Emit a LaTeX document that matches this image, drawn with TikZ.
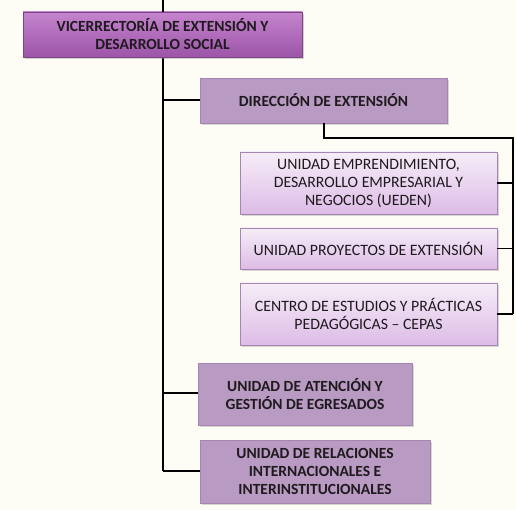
\documentclass[tikz,border=0pt]{standalone}
\usepackage{fontspec}
\setmainfont{Carlito}
\usetikzlibrary{shadows}
\definecolor{bgc}{HTML}{FDFDF6}
\definecolor{darkp}{HTML}{9C55A8}
\definecolor{darkp2}{HTML}{C584CD}
\definecolor{mauve}{HTML}{B99AC2}
\definecolor{lightp}{HTML}{F6EDF8}
\definecolor{lightp2}{HTML}{DDBCE6}
\definecolor{edgep}{HTML}{A685B3}
\definecolor{txt}{HTML}{1E1A1E}
\tikzset{
  x=1pt,y=-1pt,
  topbox/.style={draw=darkp!80!black, line width=0.6pt, top color=darkp2, bottom color=darkp, drop shadow={shadow xshift=1.5pt,shadow yshift=-2pt,opacity=0.35}, align=center, text=txt, font=\bfseries\fontsize{15.5}{18}\selectfont, inner sep=0pt},
  midbox/.style={draw=edgep, line width=0.6pt, fill=mauve, drop shadow={shadow xshift=1.5pt,shadow yshift=-2pt,opacity=0.3}, align=center, text=txt, font=\bfseries\fontsize{15.5}{18}\selectfont, inner sep=0pt},
  unitbox/.style={draw=edgep, line width=0.6pt, top color=lightp, bottom color=lightp2, drop shadow={shadow xshift=1.5pt,shadow yshift=-2pt,opacity=0.3}, align=center, text=txt, font=\fontsize{15.8}{18}\selectfont, inner sep=0pt},
  conn/.style={line width=1.4pt, black}
}
\begin{document}
\begin{tikzpicture}
\fill[bgc] (0,0) rectangle (516,510);
\useasboundingbox (0,0) rectangle (516,510);
\coordinate (top) at (163,0);
\coordinate (bot) at (163,471);
\draw[conn] (top) -- (bot);
\draw[conn] (163,100) -- (200,100);
\draw[conn] (163,393) -- (198,393);
\draw[conn] (163,471) -- (200,471);
\node[topbox, minimum width=279pt, minimum height=45pt] (vice) at (162.5,34.5) {VICERRECTORÍA DE EXTENSIÓN Y\\DESARROLLO SOCIAL};
\node[midbox, minimum width=247pt, minimum height=45pt] (dir) at (323.5,100.5) {DIRECCIÓN DE EXTENSIÓN};
\node[unitbox, minimum width=257pt, minimum height=62pt] (ueden) at (368.5,183) {UNIDAD EMPRENDIMIENTO,\\DESARROLLO EMPRESARIAL Y\\NEGOCIOS (UEDEN)};
\node[unitbox, minimum width=257pt, minimum height=41pt] (proy) at (368.5,248.5) {UNIDAD PROYECTOS DE EXTENSIÓN};
\node[unitbox, minimum width=257pt, minimum height=62pt] (cepas) at (368.5,314) {CENTRO DE ESTUDIOS Y PRÁCTICAS\\PEDAGÓGICAS – CEPAS};
\node[midbox, minimum width=214pt, minimum height=62pt] (egr) at (305,394) {UNIDAD DE ATENCIÓN Y\\GESTIÓN DE EGRESADOS};
\node[midbox, minimum width=230pt, minimum height=63pt] (rel) at (315,471.5) {UNIDAD DE RELACIONES\\INTERNACIONALES E\\INTERINSTITUCIONALES};
\coordinate (rr) at (513,138);
\draw[conn] (dir.south -| 324,0) -- (324,138) -- (rr) -- (513,314);
\draw[conn] (ueden.east) -- (513,183);
\draw[conn] (proy.east) -- (513,248.5);
\draw[conn] (cepas.east) -- (513,314);
\draw[conn] (vice.north -| top) -- (top);
\end{tikzpicture}
\end{document}
